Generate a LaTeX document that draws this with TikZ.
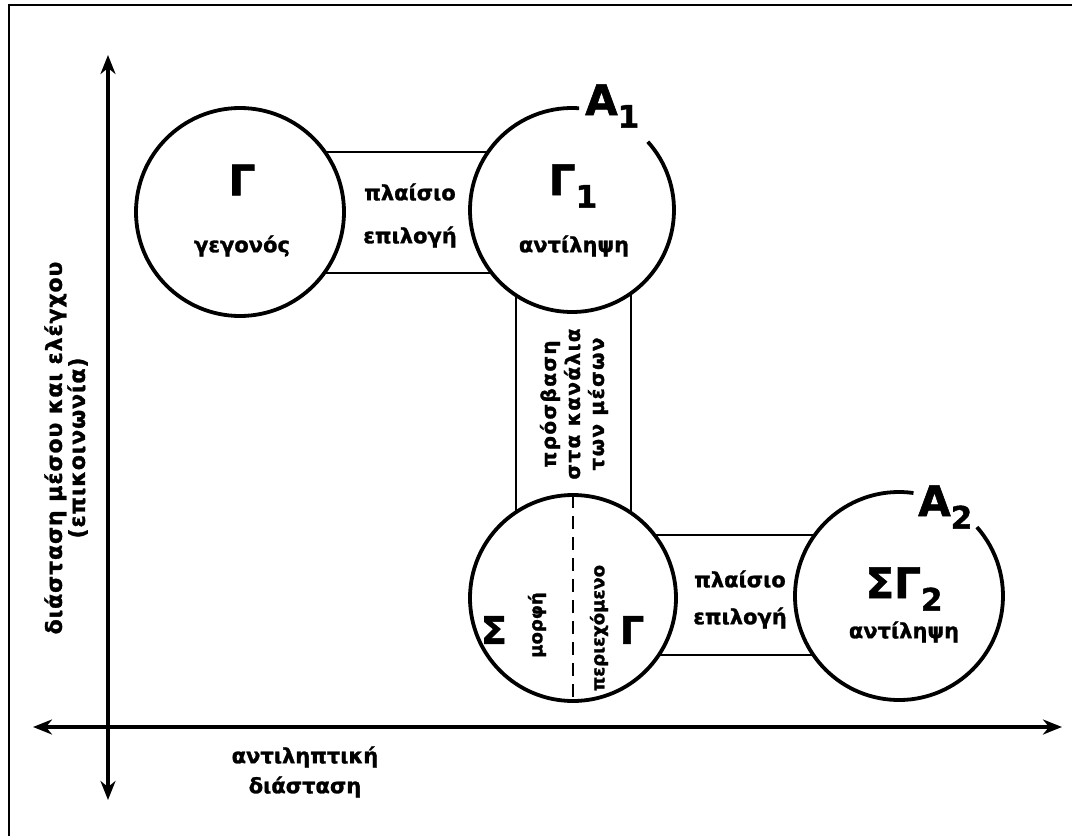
\documentclass[tikz,border=0pt]{standalone}
\usepackage{fontspec}
\setmainfont{DejaVu Sans}[BoldFeatures={FakeBold=1.4}]
\usetikzlibrary{arrows.meta,calc}

\tikzset{
  axis/.style={line width=3.4pt, {Stealth[length=19pt,width=15pt,inset=6pt]}-{Stealth[length=19pt,width=15pt,inset=6pt]}},
  band/.style={draw, line width=1.4pt},
  ring/.style={line width=3.8pt},
  lbl/.style={font=\bfseries\fontsize{21}{30}\selectfont, align=center, inner sep=0pt},
  slbl/.style={font=\bfseries\fontsize{18}{22}\selectfont, align=center, inner sep=0pt},
  vlbl/.style={font=\bfseries\fontsize{20}{24}\selectfont\addfontfeature{LetterSpace=7}, align=center, inner sep=0pt},
  big/.style={font=\bfseries\fontsize{42}{42}\selectfont, inner sep=0pt},
}
\newcommand{\subdig}[1]{\raisebox{-0.3em}{\fontsize{31}{31}\selectfont #1}}

\begin{document}
\begin{tikzpicture}[x=1pt,y=1pt]
\useasboundingbox (0,0) rectangle (1072,-836);
\clip (0,0) rectangle (1072,-836);

% outer frame (runs off the right and bottom edges)
\draw[line width=2pt] (9,-900) -- (9,-5) -- (1100,-5);

% axes
\coordinate (ytop) at (108,-55);
\coordinate (ybot) at (108,-800);
\coordinate (xl) at (33,-727);
\coordinate (xr) at (1062,-727);
\draw[axis] (ybot) -- (ytop);
\draw[axis] (xl) -- (xr);

% bands between the circles
\draw[band] (300,-152) rectangle (510,-273);
\draw[band] (516,-260) rectangle (631,-540);
\draw[band] (620,-535) rectangle (850,-655);

% circles
\coordinate (cG) at (240,-212);
\coordinate (cG1) at (572,-210);
\coordinate (cSG) at (573,-598);
\coordinate (cSG2) at (899,-596);

\fill[white] (cG) circle (104);
\draw[ring] (cG) circle (104);

\fill[white] (cG1) circle (102);
\draw[ring] (cG1) ++(86:102) arc[start angle=86, end angle=402, radius=102];

\fill[white] (cSG) circle (103);
\draw[ring] (cSG) circle (103);
\draw[line width=2.6pt, dash pattern=on 13pt off 8pt] ($(cSG)+(0,103)$) -- ($(cSG)+(0,-103)$);

\fill[white] (cSG2) circle (104);
\draw[ring] (cSG2) ++(82:104) arc[start angle=82, end angle=401.5, radius=104];

% texts of the first circle
\node[big] (tG) at (242,-180) {Γ};
\node[lbl] (tGa) at (242,-246) {γεγονός};

% first band
\node[lbl] (tP1) at (410,-192) {πλαίσιο};
\node[lbl] (tE1) at (410,-237) {επιλογή};

% second circle
\node[big, anchor=base] (tG1) at (573,-195) {Γ\subdig{1}};
\node[lbl] (tG1a) at (574,-246) {αντίληψη};
\node[big, anchor=base west] (tA1) at (585,-115) {A\subdig{1}};

% vertical band
\node[vlbl, rotate=90] (tV) at (574,-404) {πρόσβαση\\στα κανάλια\\των μέσων};

% split circle
\node[big, font=\bfseries\fontsize{38}{38}\selectfont] (tS) at (494,-630) {Σ};
\node[slbl, rotate=90] (tM) at (537,-625) {μορφή};
\node[slbl, rotate=90] (tP) at (599,-628) {περιεχόμενο};
\node[big, font=\bfseries\fontsize{38}{38}\selectfont] (tGr) at (632,-630) {Γ};

% third band
\node[lbl] (tP2) at (740,-579) {πλαίσιο};
\node[lbl] (tE2) at (740,-618) {επιλογή};

% last circle
\node[big, anchor=base] (tSG2) at (904,-598) {ΣΓ\subdig{2}};
\node[lbl] (tSG2a) at (904,-632) {αντίληψη};
\node[big, anchor=base west] (tA2) at (918,-516) {A\subdig{2}};

% axis labels
\node[lbl] (tX) at (305,-772) {αντιληπτική\\διάσταση};
\node[lbl, rotate=90, font=\bfseries\fontsize{22}{23}\selectfont\addfontfeature{LetterSpace=4}] (tY) at (66,-448) {διάσταση μέσου και ελέγχου\\(επικοινωνία)};
\end{tikzpicture}
\end{document}
